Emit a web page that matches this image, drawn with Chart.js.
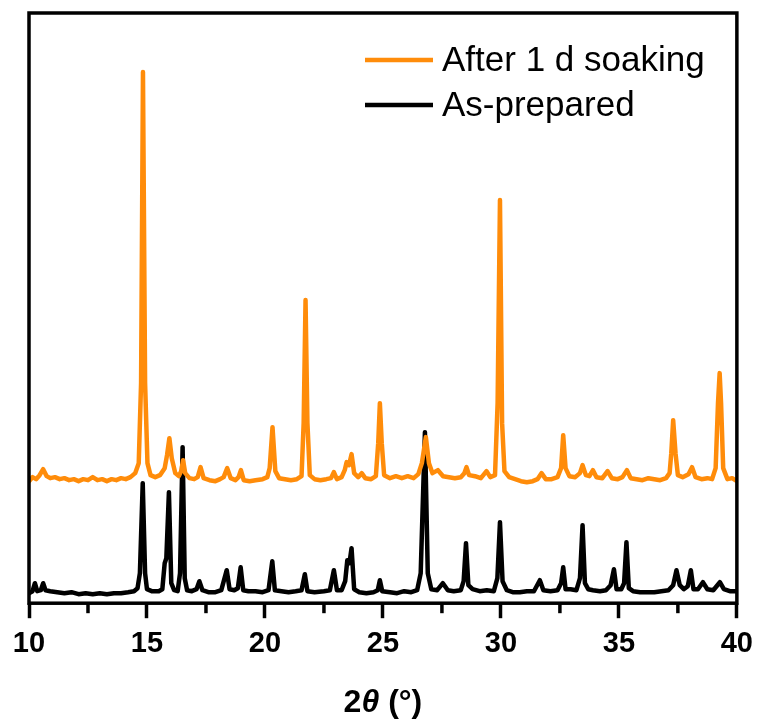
<!DOCTYPE html>
<html>
<head>
<meta charset="utf-8">
<script src="https://cdn.jsdelivr.net/npm/chart.js@4"></script>
<style>
  html, body { margin: 0; padding: 0; background: #fff; }
  #wrap { width: 761px; height: 720px; }
</style>
</head>
<body>
<div id="wrap"><canvas id="xrd"></canvas></div>
<script>
// XRD patterns, intensity in arbitrary units (offset traces)
const xTicks = [10, 15, 20, 25, 30, 35, 40];
const seriesLabels = ['After 1 d soaking', 'As-prepared'];

const soakedTheta = [
  10.0, 10.15, 10.3, 10.45, 10.6, 10.75, 10.9, 11.1, 11.3, 11.5, 11.7, 11.9, 12.1, 12.3, 12.5, 12.7, 12.9, 13.1, 13.3, 13.5,
  13.7, 13.9, 14.1, 14.3, 14.5, 14.65, 14.75, 14.83, 14.92, 15.02, 15.15, 15.35, 15.55, 15.75, 15.85, 15.95, 16.05, 16.2, 16.35, 16.45,
  16.53, 16.62, 16.8, 17.0, 17.15, 17.27, 17.4, 17.65, 17.9, 18.1, 18.25, 18.4, 18.55, 18.75, 18.88, 18.98, 19.1, 19.35, 19.6, 19.9,
  20.1, 20.2, 20.32, 20.44, 20.6, 20.85, 21.1, 21.35, 21.55, 21.64, 21.72, 21.8, 21.9, 22.1, 22.35, 22.6, 22.8, 22.92, 23.05, 23.25,
  23.38, 23.46, 23.56, 23.67, 23.78, 23.95, 24.1, 24.25, 24.5, 24.7, 24.8, 24.87, 24.95, 25.05, 25.3, 25.55, 25.8, 26.05, 26.3, 26.5,
  26.65, 26.82, 26.95, 27.1, 27.33, 27.55, 27.8, 28.05, 28.3, 28.45, 28.54, 28.65, 28.9, 29.15, 29.39, 29.55, 29.75, 29.86, 29.96, 30.05,
  30.15, 30.35, 30.6, 30.85, 31.1, 31.35, 31.55, 31.72, 31.9, 32.15, 32.4, 32.55, 32.64, 32.74, 32.9, 33.15, 33.35, 33.46, 33.6, 33.75,
  33.9, 34.05, 34.3, 34.52, 34.7, 34.95, 35.15, 35.34, 35.5, 35.75, 36.0, 36.25, 36.5, 36.75, 37.0, 37.15, 37.22, 37.3, 37.4, 37.5,
  37.7, 37.95, 38.1, 38.25, 38.5, 38.75, 38.95, 39.1, 39.2, 39.27, 39.33, 39.42, 39.6, 39.8, 40.0
];
const soakedIntensity = [
  122, 126, 124, 128, 134, 127, 125, 126, 124, 125, 123, 124, 122, 124, 123, 126, 123, 124, 122, 124,
  123, 125, 124, 126, 130, 140, 220, 531, 220, 140, 128, 126, 128, 135, 148, 165, 145, 130, 127, 132,
  143, 130, 125, 124, 126, 136, 125, 123, 122, 124, 126, 135, 125, 123, 126, 133, 123, 122, 123, 124,
  126, 135, 176, 132, 125, 124, 123, 124, 127, 180, 303, 180, 128, 124, 123, 124, 125, 131, 124, 126,
  133, 141, 138, 149, 130, 126, 130, 125, 124, 127, 160, 200, 160, 128, 125, 127, 125, 127, 125, 129,
  140, 166, 140, 130, 133, 127, 126, 125, 126, 130, 136, 128, 127, 125, 132, 126, 128, 200, 403, 180,
  132, 126, 124, 122, 121, 122, 124, 130, 124, 124, 126, 135, 168, 135, 127, 126, 130, 138, 128, 127,
  133, 126, 125, 132, 125, 124, 126, 133, 125, 124, 123, 125, 124, 123, 125, 130, 150, 183, 150, 128,
  126, 129, 136, 126, 124, 125, 124, 135, 200, 230, 200, 135, 124, 125, 122
];

const preparedTheta = [
  10.0, 10.15, 10.25, 10.35, 10.5, 10.6, 10.7, 10.9, 11.2, 11.5, 11.8, 12.1, 12.4, 12.7, 13.0, 13.3, 13.6, 13.9, 14.2, 14.45,
  14.6, 14.7, 14.82, 14.92, 15.0, 15.2, 15.5, 15.65, 15.75, 15.82, 15.93, 16.03, 16.15, 16.3, 16.4, 16.51, 16.6, 16.7, 16.9, 17.1,
  17.22, 17.35, 17.6, 17.9, 18.15, 18.38, 18.5, 18.7, 18.85, 18.97, 19.08, 19.3, 19.6, 19.9, 20.15, 20.31, 20.42, 20.7, 21.0, 21.3,
  21.55, 21.69, 21.8, 22.1, 22.5, 22.75, 22.92, 23.05, 23.25, 23.4, 23.49, 23.58, 23.67, 23.78, 24.0, 24.3, 24.6, 24.78, 24.87, 24.97,
  25.3, 25.6, 25.9, 26.2, 26.45, 26.6, 26.78, 26.9, 27.05, 27.3, 27.54, 27.75, 28.0, 28.3, 28.42, 28.52, 28.62, 28.8, 29.1, 29.4,
  29.7, 29.85, 29.96, 30.07, 30.25, 30.5, 30.8, 31.1, 31.4, 31.65, 31.8, 32.1, 32.4, 32.55, 32.64, 32.74, 32.95, 33.2, 33.35, 33.46,
  33.56, 33.7, 33.9, 34.2, 34.45, 34.65, 34.79, 34.9, 35.1, 35.22, 35.32, 35.42, 35.6, 35.9, 36.2, 36.5, 36.8, 37.1, 37.3, 37.44,
  37.58, 37.75, 37.92, 38.05, 38.16, 38.35, 38.56, 38.75, 39.0, 39.28, 39.45, 39.7, 40.0
];
const preparedIntensity = [
  10, 12, 20, 12, 13, 20, 13, 12, 11, 10, 11, 9, 10, 9, 10, 9, 10, 10, 11, 12,
  15, 30, 120, 30, 14, 12, 12, 14, 40, 45, 111, 20, 13, 12, 30, 156, 25, 13, 12, 14,
  22, 13, 11, 11, 13, 33, 14, 13, 15, 36, 13, 12, 12, 11, 13, 42, 13, 12, 11, 12,
  13, 29, 12, 11, 12, 13, 33, 13, 13, 22, 43, 40, 55, 14, 11, 10, 11, 13, 23, 12,
  11, 10, 12, 11, 13, 30, 171, 30, 14, 13, 20, 13, 12, 13, 22, 60, 18, 14, 12, 13,
  12, 25, 81, 22, 13, 11, 11, 12, 12, 23, 13, 12, 13, 20, 36, 14, 14, 13, 25, 78,
  20, 14, 13, 12, 13, 18, 34, 14, 14, 20, 61, 15, 12, 11, 11, 11, 12, 13, 18, 33,
  18, 14, 17, 33, 14, 14, 21, 14, 13, 21, 14, 12, 12
];

const toPoints = (xs, ys) => xs.map((x, i) => ({ x: x, y: ys[i] }));

const FONT = '"Liberation Sans", Arial, sans-serif';

// frame, minor ticks, legend and axis title
const decorPlugin = {
  id: 'decor',
  afterDraw(chart) {
    const ctx = chart.ctx;
    const area = chart.chartArea;
    const xScale = chart.scales.x;
    ctx.save();
    ctx.strokeStyle = '#000';
    ctx.lineWidth = 3.5;
    ctx.strokeRect(area.left, area.top, area.right - area.left, area.bottom - area.top);

    // minor ticks
    ctx.lineWidth = 3.5;
    for (let v = 12.5; v < 40; v += 5) {
      const px = xScale.getPixelForValue(v);
      ctx.beginPath();
      ctx.moveTo(px, area.bottom);
      ctx.lineTo(px, area.bottom + 10);
      ctx.stroke();
    }

    // legend
    ctx.font = '35px ' + FONT;
    ctx.textBaseline = 'alphabetic';
    chart.data.datasets.forEach((ds, i) => {
      const y = 60 + i * 45;
      ctx.strokeStyle = ds.borderColor;
      ctx.lineWidth = 4.5;
      ctx.beginPath();
      ctx.moveTo(365, y);
      ctx.lineTo(433, y);
      ctx.stroke();
      ctx.fillStyle = '#000';
      ctx.fillText(ds.label, 442, y + 11);
    });

    // x title: 2θ (°) with italic theta
    const parts = [
      { t: '2', f: 'bold 32px ' + FONT },
      { t: 'θ', f: 'italic bold 32px ' + FONT },
      { t: ' (°)', f: 'bold 32px ' + FONT }
    ];
    let total = 0;
    parts.forEach(p => { ctx.font = p.f; p.w = ctx.measureText(p.t).width; total += p.w; });
    let x = (area.left + area.right) / 2 - total / 2;
    ctx.fillStyle = '#000';
    ctx.textAlign = 'left';
    parts.forEach(p => { ctx.font = p.f; ctx.fillText(p.t, x, 712); x += p.w; });
    ctx.restore();
  }
};

new Chart(document.getElementById('xrd'), {
  type: 'line',
  data: {
    datasets: [
      {
        label: seriesLabels[0],
        data: toPoints(soakedTheta, soakedIntensity),
        borderColor: 'rgb(255, 140, 10)',
        borderWidth: 4.5,
        borderJoinStyle: 'round',
        borderCapStyle: 'round',
        pointRadius: 0,
        tension: 0,
        fill: false
      },
      {
        label: seriesLabels[1],
        data: toPoints(preparedTheta, preparedIntensity),
        borderColor: '#000',
        borderWidth: 4.5,
        borderJoinStyle: 'round',
        borderCapStyle: 'round',
        pointRadius: 0,
        tension: 0,
        fill: false
      }
    ]
  },
  options: {
    responsive: true,
    maintainAspectRatio: false,
    animation: false,
    layout: { padding: { left: 29, right: 23, top: 13, bottom: 51 } },
    scales: {
      x: {
        type: 'linear',
        min: 10,
        max: 40,
        afterBuildTicks: axis => { axis.ticks = xTicks.map(v => ({ value: v })); },
        border: { display: false },
        grid: {
          drawOnChartArea: false,
          drawTicks: true,
          tickLength: 15,
          tickWidth: 3.5,
          tickColor: '#000'
        },
        ticks: {
          color: '#000',
          padding: 8,
          maxRotation: 0,
          font: { family: FONT, size: 29, weight: 'bold' }
        }
      },
      y: {
        display: false,
        min: 0,
        max: 590
      }
    },
    plugins: {
      legend: { display: false },
      tooltip: { enabled: false }
    }
  },
  plugins: [decorPlugin]
});
</script>
</body>
</html>
